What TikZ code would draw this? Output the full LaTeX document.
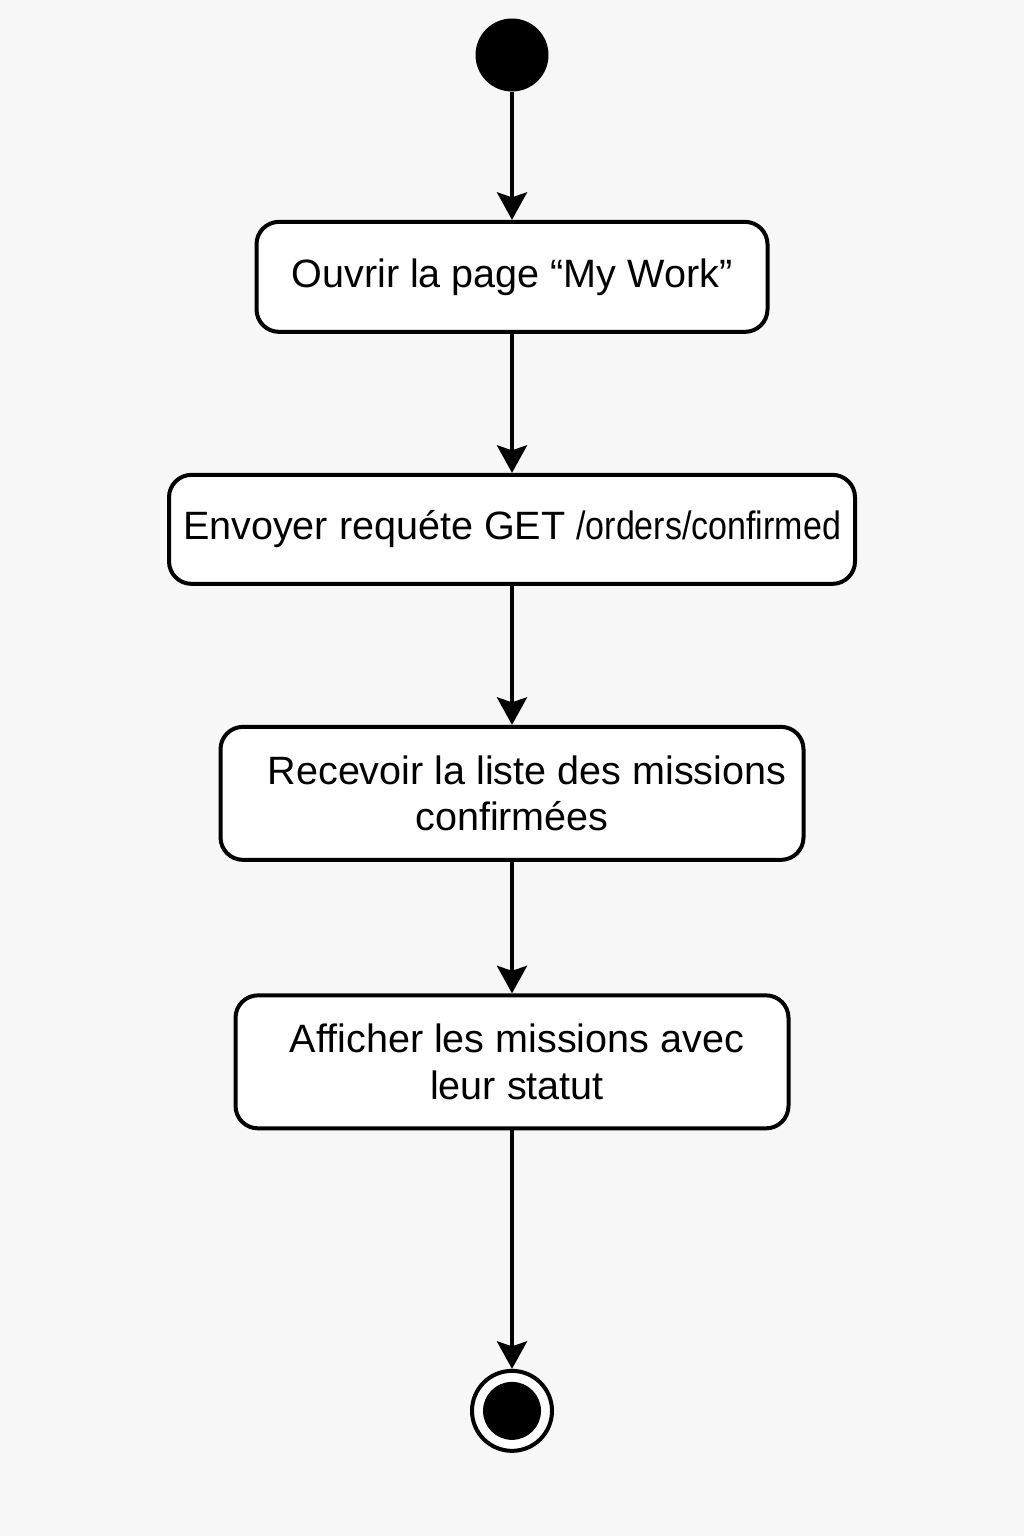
\documentclass[tikz,border=0pt]{standalone}
\usepackage{fontspec}
\setmainfont{Liberation Sans}
\usetikzlibrary{arrows.meta, positioning}
\definecolor{paper}{RGB}{247,247,247}

\begin{document}
\begin{tikzpicture}[
    >={Stealth[length=5.5mm, width=6mm, inset=1mm]},
    activity/.style={rectangle, rounded corners=0.45cm, draw, fill=white, align=center, line width=0.08cm, font=\fontsize{22.5}{26.5}\selectfont},
    initial/.style={circle, fill, minimum size=1.46cm, inner sep=0pt},
    final/.style={circle, draw, fill=white, line width=0.08cm, minimum size=1.6cm, inner sep=0pt,
        path picture={\fill[black] (path picture bounding box.center) circle (0.58cm);}},
    every edge/.style={draw, ->, line width=0.08cm}
]

\fill[paper] (0,0) rectangle (20.48,-30.72);
\useasboundingbox (0,0) rectangle (20.48,-30.72);

\node[initial] (start) at (10.24,-1.1) {};
\node[activity, minimum width=10.22cm, minimum height=2.2cm, below=2.56cm of start] (open) {Ouvrir la page “My Work”};
\node[activity, minimum width=13.72cm, minimum height=2.18cm, below=2.78cm of open] (request) {Envoyer requéte GET \scalebox{0.86}[1]{/orders/confirmed}};
\node[activity, minimum width=11.66cm, minimum height=2.66cm, below=2.78cm of request] (receive) {\hspace*{0.6cm}Recevoir la liste des missions\\confirmées};
\node[activity, minimum width=11.06cm, minimum height=2.66cm, below=2.63cm of receive] (show) {\hspace*{0.2cm}Afficher les missions avec\\\hspace*{0.2cm}leur statut};
\node[final, below=4.77cm of show] (end) {};

\draw (start) edge (open);
\draw (open) edge (request);
\draw (request) edge (receive);
\draw (receive) edge (show);
\draw (show) edge (end);

\end{tikzpicture}
\end{document}
